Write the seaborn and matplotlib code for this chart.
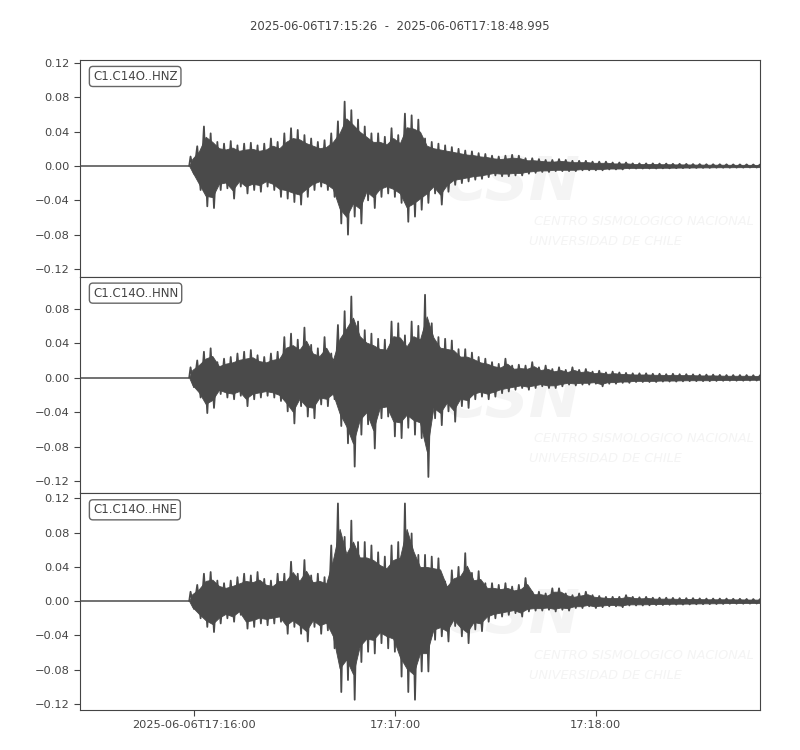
import numpy as np
import pandas as pd
import matplotlib
matplotlib.use("Agg")
import matplotlib.pyplot as plt
import seaborn as sns

# Window and labels
title = "2025-06-06T17:15:26  -  2025-06-06T17:18:48.995"
channels = ["C1.C14O..HNZ", "C1.C14O..HNN", "C1.C14O..HNE"]
duration_s = 202.995
onset_s = 32.6
bin_start_s = 32
bin_width_s = 2
tick_seconds = [34, 94, 154]
tick_labels = ["2025-06-06T17:16:00", "17:17:00", "17:18:00"]
y_ticks = [-0.12, -0.08, -0.04, 0.0, 0.04, 0.08, 0.12]
y_limits = [(-0.129, 0.1235), (-0.134, 0.117), (-0.127, 0.1258)]

# Peak amplitudes per 2 s bin (from 17:15:58)
hnz_upper = [0.011, 0.023, 0.046, 0.038, 0.028, 0.026, 0.029, 0.024, 0.026, 0.027,
             0.024, 0.026, 0.032, 0.028, 0.038, 0.044, 0.042, 0.036, 0.032, 0.028,
             0.030, 0.038, 0.052, 0.075, 0.065, 0.054, 0.046, 0.038, 0.038, 0.034,
             0.044, 0.036, 0.061, 0.059, 0.054, 0.032, 0.028, 0.026, 0.024, 0.022,
             0.020, 0.018, 0.017, 0.015, 0.014, 0.012, 0.011, 0.012, 0.013, 0.012,
             0.009, 0.009, 0.008, 0.007, 0.007, 0.008, 0.007, 0.006, 0.006, 0.006,
             0.005, 0.005, 0.005, 0.004, 0.004, 0.004, 0.003, 0.003, 0.003, 0.003,
             0.0028, 0.0028, 0.0025, 0.0025, 0.0024, 0.0022, 0.0022, 0.002, 0.002, 0.002,
             0.0019, 0.0018, 0.0018, 0.0018, 0.0017, 0.0017]
hnz_lower = [-0.009, -0.028, -0.047, -0.049, -0.028, -0.026, -0.038, -0.024, -0.032, -0.028,
             -0.030, -0.024, -0.028, -0.036, -0.038, -0.042, -0.045, -0.036, -0.028, -0.024,
             -0.028, -0.036, -0.067, -0.080, -0.059, -0.067, -0.040, -0.049, -0.036, -0.032,
             -0.036, -0.043, -0.065, -0.059, -0.051, -0.043, -0.032, -0.045, -0.030, -0.022,
             -0.020, -0.018, -0.016, -0.015, -0.013, -0.011, -0.012, -0.012, -0.011, -0.011,
             -0.009, -0.008, -0.007, -0.007, -0.006, -0.006, -0.006, -0.006, -0.005, -0.005,
             -0.005, -0.005, -0.004, -0.004, -0.004, -0.003, -0.003, -0.003, -0.003, -0.003,
             -0.0028, -0.0028, -0.0026, -0.0025, -0.0024, -0.0023, -0.0022, -0.0022, -0.002, -0.002,
             -0.002, -0.0019, -0.0019, -0.0018, -0.0018, -0.0018]

hnn_upper = [0.012, 0.020, 0.030, 0.034, 0.018, 0.022, 0.024, 0.028, 0.030, 0.032,
             0.026, 0.024, 0.028, 0.030, 0.047, 0.051, 0.044, 0.058, 0.038, 0.034,
             0.047, 0.028, 0.061, 0.077, 0.094, 0.065, 0.055, 0.051, 0.045, 0.044,
             0.065, 0.063, 0.049, 0.065, 0.060, 0.096, 0.063, 0.047, 0.045, 0.043,
             0.033, 0.033, 0.029, 0.024, 0.022, 0.018, 0.016, 0.022, 0.014, 0.015,
             0.014, 0.018, 0.012, 0.014, 0.010, 0.012, 0.009, 0.012, 0.009, 0.010,
             0.007, 0.008, 0.006, 0.007, 0.006, 0.0055, 0.005, 0.005, 0.005, 0.0045,
             0.0045, 0.004, 0.0045, 0.004, 0.004, 0.0038, 0.0035, 0.0035, 0.0035, 0.0032,
             0.003, 0.003, 0.003, 0.003, 0.0028, 0.0028]
hnn_lower = [-0.011, -0.023, -0.041, -0.035, -0.019, -0.023, -0.025, -0.021, -0.033, -0.025,
             -0.023, -0.021, -0.023, -0.027, -0.039, -0.053, -0.033, -0.045, -0.047, -0.031,
             -0.033, -0.025, -0.056, -0.076, -0.103, -0.066, -0.054, -0.082, -0.047, -0.045,
             -0.068, -0.070, -0.058, -0.066, -0.070, -0.115, -0.047, -0.055, -0.039, -0.051,
             -0.033, -0.035, -0.025, -0.022, -0.025, -0.022, -0.018, -0.016, -0.014, -0.012,
             -0.014, -0.012, -0.010, -0.012, -0.012, -0.010, -0.008, -0.009, -0.008, -0.008,
             -0.007, -0.010, -0.007, -0.007, -0.006, -0.006, -0.005, -0.005, -0.005, -0.005,
             -0.0045, -0.0045, -0.0045, -0.0042, -0.004, -0.004, -0.004, -0.004, -0.0038, -0.0036,
             -0.0035, -0.0035, -0.0035, -0.0034, -0.0033, -0.0033]

hne_upper = [0.011, 0.019, 0.032, 0.034, 0.024, 0.021, 0.024, 0.028, 0.032, 0.030,
             0.034, 0.026, 0.024, 0.032, 0.032, 0.046, 0.032, 0.048, 0.030, 0.032,
             0.028, 0.065, 0.114, 0.075, 0.094, 0.069, 0.069, 0.065, 0.057, 0.052,
             0.065, 0.069, 0.114, 0.079, 0.054, 0.054, 0.052, 0.050, 0.023, 0.036,
             0.040, 0.056, 0.033, 0.035, 0.021, 0.021, 0.019, 0.021, 0.017, 0.019,
             0.027, 0.011, 0.011, 0.009, 0.015, 0.015, 0.009, 0.007, 0.009, 0.011,
             0.007, 0.006, 0.005, 0.005, 0.005, 0.007, 0.005, 0.0045, 0.005, 0.004,
             0.004, 0.004, 0.0038, 0.0035, 0.0035, 0.0035, 0.0032, 0.003, 0.003, 0.003,
             0.003, 0.0028, 0.0028, 0.0026, 0.0025, 0.0025]
hne_lower = [-0.009, -0.020, -0.030, -0.036, -0.026, -0.020, -0.024, -0.016, -0.032, -0.030,
             -0.026, -0.028, -0.026, -0.024, -0.038, -0.030, -0.038, -0.047, -0.030, -0.038,
             -0.034, -0.055, -0.106, -0.092, -0.115, -0.071, -0.059, -0.061, -0.049, -0.055,
             -0.059, -0.088, -0.106, -0.115, -0.082, -0.082, -0.045, -0.041, -0.047, -0.029,
             -0.041, -0.049, -0.033, -0.035, -0.024, -0.020, -0.018, -0.016, -0.014, -0.018,
             -0.012, -0.011, -0.011, -0.010, -0.012, -0.010, -0.011, -0.008, -0.008, -0.006,
             -0.008, -0.007, -0.006, -0.006, -0.007, -0.005, -0.005, -0.005, -0.0048, -0.0045,
             -0.0045, -0.0042, -0.004, -0.004, -0.0038, -0.0036, -0.0035, -0.0034, -0.0033, -0.0032,
             -0.003, -0.003, -0.003, -0.0029, -0.0028, -0.0028]

uppers = [hnz_upper, hnn_upper, hne_upper]
lowers = [hnz_lower, hnn_lower, hne_lower]

ink = "#4a4a4a"
text_col = "#444444"
mark_col = "#f4f4f4"
core_frac = 0.74  # solid body of the wiggle, as a share of the bin peaks

sns.set_style("ticks")
plt.rcParams["font.family"] = ["DejaVu Sans"]
plt.rcParams["axes.edgecolor"] = text_col
plt.rcParams["xtick.color"] = text_col
plt.rcParams["ytick.color"] = text_col


def trace_frame(upper, lower):
    # alternate bin maxima and minima to draw the trace as a wiggle
    starts = bin_start_s + bin_width_s * np.arange(len(upper))
    t = np.column_stack([starts + 1.0, starts + 2.0]).ravel()
    v = np.column_stack([upper, lower]).ravel()
    return pd.DataFrame({"time_s": t, "amplitude": v})


fig, axes = plt.subplots(3, 1, figsize=(8, 7.5), dpi=100, sharex=True)
fig.subplots_adjust(left=0.1, right=0.95, top=0.92, bottom=0.0533, hspace=0)

for i, ax in enumerate(axes):
    up = np.array(uppers[i])
    lo = np.array(lowers[i])
    centers = bin_start_s + bin_width_s * np.arange(len(up)) + 1.5

    quiet = pd.DataFrame({"time_s": [0.0, onset_s], "amplitude": [0.0, 0.0]})
    sns.lineplot(data=quiet, x="time_s", y="amplitude", ax=ax, color=ink,
                 lw=1.1, sort=False, estimator=None, zorder=3)

    # solid body
    ax.fill_between(np.r_[onset_s, centers], np.r_[0.0, core_frac * up],
                    np.r_[0.0, core_frac * lo], color=ink, lw=0.6, zorder=3)

    df = trace_frame(up, lo)
    df = pd.concat([quiet.iloc[[-1]], df], ignore_index=True)
    sns.lineplot(data=df, x="time_s", y="amplitude", ax=ax, color=ink,
                 lw=1.3, sort=False, estimator=None, zorder=3)

    # faint CSN watermark
    ax.text(0.635, 0.43, "CSN", transform=ax.transAxes, fontsize=44,
            fontweight="bold", style="italic", color=mark_col,
            ha="center", va="center", zorder=1)
    ax.text(0.667, 0.253, "CENTRO SISMOLOGICO NACIONAL", transform=ax.transAxes,
            fontsize=9.3, style="italic", color=mark_col, ha="left", va="center",
            zorder=1)
    ax.text(0.66, 0.161, "UNIVERSIDAD DE CHILE", transform=ax.transAxes,
            fontsize=9.3, style="italic", color=mark_col, ha="left", va="center",
            zorder=1)

    ax.text(0.019, 0.924, channels[i], transform=ax.transAxes, fontsize=8.5,
            color=text_col, ha="left", va="center", zorder=5,
            bbox=dict(boxstyle="round,pad=0.3", fc="white", ec="#666666", lw=1))

    ax.set_yticks(y_ticks)
    ax.set_yticklabels([f"{v:.2f}".replace("-", "\u2212") for v in y_ticks])
    ax.set_xlim(0, duration_s)
    ax.set_ylim(*y_limits[i])
    ax.set_xlabel("")
    ax.set_ylabel("")
    ax.tick_params(axis="y", labelsize=8.2, length=4)
    for side in ax.spines.values():
        side.set_color(text_col)
    if i < 2:
        ax.tick_params(axis="x", bottom=False, labelbottom=False)

axes[-1].set_xticks(tick_seconds)
axes[-1].set_xticklabels(tick_labels)
axes[-1].set_xlim(0, duration_s)
axes[-1].tick_params(axis="x", labelsize=8.2, length=4)

fig.suptitle(title, fontsize=8.4, color=text_col, y=0.973)
fig.savefig("out.png", dpi=100)
